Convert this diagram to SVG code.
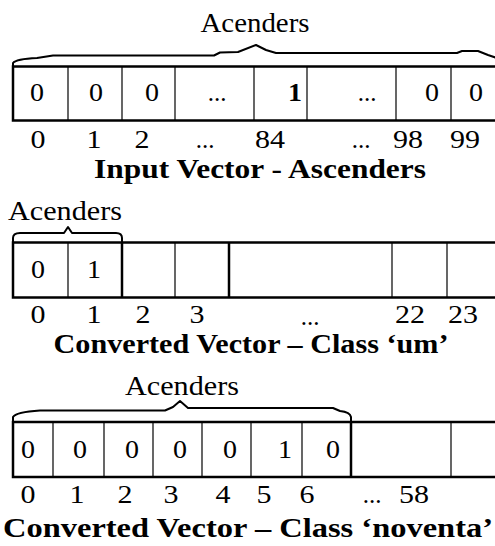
<svg xmlns="http://www.w3.org/2000/svg" width="495" height="546" viewBox="0 0 495 546" font-family="'Liberation Serif', 'DejaVu Serif', serif">
<style>
.v{font-size:25px;text-anchor:middle}
.i{font-size:25px;text-anchor:middle}
.lab{font-size:28px;text-anchor:middle}
.t{font-size:28px;font-weight:bold;text-anchor:middle}
.box{fill:#fff;stroke:#000;stroke-width:2.5}
.thin{stroke:#000;stroke-width:1.2}
.thick{stroke:#000;stroke-width:2.5}
.brace{fill:none;stroke:#000;stroke-width:2;stroke-linejoin:round}
</style>
<rect width="495" height="546" fill="#fff"/>

<g id="panel1">
  <text class="lab" x="255" y="32" textLength="109" lengthAdjust="spacingAndGlyphs">Acenders</text>
  <path class="brace" d="M13,66 L13,63 Q16,59 37,58 L53,55.5 L214,55.5 L220,52.5 L238,52 L256,45 L266,50 L276,53 L457,53 L462,51 L478,51 L488,55 L497,58"/>
  <rect class="box" x="13" y="66.5" width="490" height="54"/>
  <g class="cells">
    <line class="thin" x1="68" y1="66.5" x2="68" y2="120.5"/>
    <line class="thin" x1="122" y1="66.5" x2="122" y2="120.5"/>
    <line class="thin" x1="175" y1="66.5" x2="175" y2="120.5"/>
    <line class="thin" x1="254" y1="66.5" x2="254" y2="120.5"/>
    <line class="thin" x1="307" y1="66.5" x2="307" y2="120.5"/>
    <line class="thin" x1="396" y1="66.5" x2="396" y2="120.5"/>
    <line class="thin" x1="451" y1="66.5" x2="451" y2="120.5"/>
  </g>
  <text class="v" x="37" y="101" textLength="14" lengthAdjust="spacingAndGlyphs">0</text>
  <text class="v" x="96" y="101" textLength="14" lengthAdjust="spacingAndGlyphs">0</text>
  <text class="v" x="152" y="101" textLength="14" lengthAdjust="spacingAndGlyphs">0</text>
  <text class="v" x="217" y="101">...</text>
  <text class="v" x="295" y="101" font-weight="bold" textLength="14" lengthAdjust="spacingAndGlyphs">1</text>
  <text class="v" x="367" y="101">...</text>
  <text class="v" x="432" y="101" textLength="14" lengthAdjust="spacingAndGlyphs">0</text>
  <text class="v" x="476" y="101" textLength="14" lengthAdjust="spacingAndGlyphs">0</text>
  <text class="i" x="38" y="148" textLength="15" lengthAdjust="spacingAndGlyphs">0</text>
  <text class="i" x="94" y="148" textLength="15" lengthAdjust="spacingAndGlyphs">1</text>
  <text class="i" x="142" y="148" textLength="15" lengthAdjust="spacingAndGlyphs">2</text>
  <text class="i" x="205" y="148">...</text>
  <text class="i" x="270" y="148" textLength="30" lengthAdjust="spacingAndGlyphs">84</text>
  <text class="i" x="361" y="148">...</text>
  <text class="i" x="408" y="148" textLength="30" lengthAdjust="spacingAndGlyphs">98</text>
  <text class="i" x="465" y="148" textLength="30" lengthAdjust="spacingAndGlyphs">99</text>
  <text class="t" x="260" y="178" textLength="332" lengthAdjust="spacingAndGlyphs">Input Vector - Ascenders</text>
</g>

<g id="panel2">
  <text class="lab" x="65" y="220" textLength="114" lengthAdjust="spacingAndGlyphs">Acenders</text>
  <path class="brace" d="M13,242 L13,238 Q13,233 20,233 L64,233 L68,227 L72,233 L116,233 Q122,233 122,238 L122,242"/>
  <rect class="box" x="13" y="242.5" width="490" height="55"/>
  <line class="thin" x1="68" y1="242.5" x2="68" y2="297.5"/>
  <line class="thick" x1="122" y1="242.5" x2="122" y2="297.5"/>
  <line class="thin" x1="175" y1="242.5" x2="175" y2="297.5"/>
  <line class="thick" x1="229" y1="242.5" x2="229" y2="297.5"/>
  <line class="thin" x1="392" y1="242.5" x2="392" y2="297.5"/>
  <line class="thin" x1="447" y1="242.5" x2="447" y2="297.5"/>
  <text class="v" x="38" y="278" textLength="14" lengthAdjust="spacingAndGlyphs">0</text>
  <text class="v" x="94" y="278" textLength="14" lengthAdjust="spacingAndGlyphs">1</text>
  <text class="i" x="38" y="323" textLength="15" lengthAdjust="spacingAndGlyphs">0</text>
  <text class="i" x="94" y="323" textLength="15" lengthAdjust="spacingAndGlyphs">1</text>
  <text class="i" x="143" y="323" textLength="15" lengthAdjust="spacingAndGlyphs">2</text>
  <text class="i" x="197" y="323" textLength="15" lengthAdjust="spacingAndGlyphs">3</text>
  <text class="i" x="310" y="325">...</text>
  <text class="i" x="410" y="323" textLength="30" lengthAdjust="spacingAndGlyphs">22</text>
  <text class="i" x="463" y="323" textLength="30" lengthAdjust="spacingAndGlyphs">23</text>
  <text class="t" x="251" y="353" textLength="395" lengthAdjust="spacingAndGlyphs">Converted Vector – Class ‘um’</text>
</g>

<g id="panel3">
  <text class="lab" x="182" y="395" textLength="114" lengthAdjust="spacingAndGlyphs">Acenders</text>
  <path class="brace" d="M13,421 L13,417 Q16,412 40,410.5 L165,410.5 L173,407 L180,401 L188,408 L333,408 L340,411 Q350,412 351,417 L351,421"/>
  <rect class="box" x="13" y="422" width="490" height="55"/>
  <line class="thin" x1="53" y1="422" x2="53" y2="477"/>
  <line class="thin" x1="104" y1="422" x2="104" y2="477"/>
  <line class="thin" x1="153" y1="422" x2="153" y2="477"/>
  <line class="thin" x1="202" y1="422" x2="202" y2="477"/>
  <line class="thin" x1="251" y1="422" x2="251" y2="477"/>
  <line class="thin" x1="302" y1="422" x2="302" y2="477"/>
  <line class="thick" x1="351" y1="422" x2="351" y2="477"/>
  <line class="thin" x1="451" y1="422" x2="451" y2="477"/>
  <text class="v" x="28" y="458" textLength="14" lengthAdjust="spacingAndGlyphs">0</text>
  <text class="v" x="80" y="458" textLength="14" lengthAdjust="spacingAndGlyphs">0</text>
  <text class="v" x="132" y="458" textLength="14" lengthAdjust="spacingAndGlyphs">0</text>
  <text class="v" x="180" y="458" textLength="14" lengthAdjust="spacingAndGlyphs">0</text>
  <text class="v" x="230" y="458" textLength="14" lengthAdjust="spacingAndGlyphs">0</text>
  <text class="v" x="285" y="458" textLength="14" lengthAdjust="spacingAndGlyphs">1</text>
  <text class="v" x="333" y="458" textLength="14" lengthAdjust="spacingAndGlyphs">0</text>
  <text class="i" x="28" y="503" textLength="15" lengthAdjust="spacingAndGlyphs">0</text>
  <text class="i" x="77" y="503" textLength="15" lengthAdjust="spacingAndGlyphs">1</text>
  <text class="i" x="125" y="503" textLength="15" lengthAdjust="spacingAndGlyphs">2</text>
  <text class="i" x="171" y="503" textLength="15" lengthAdjust="spacingAndGlyphs">3</text>
  <text class="i" x="223" y="503" textLength="15" lengthAdjust="spacingAndGlyphs">4</text>
  <text class="i" x="264" y="503" textLength="15" lengthAdjust="spacingAndGlyphs">5</text>
  <text class="i" x="307" y="503" textLength="15" lengthAdjust="spacingAndGlyphs">6</text>
  <text class="i" x="372" y="503">...</text>
  <text class="i" x="414" y="503" textLength="30" lengthAdjust="spacingAndGlyphs">58</text>
  <text class="t" x="248" y="537" textLength="490" lengthAdjust="spacingAndGlyphs">Converted Vector – Class ‘noventa’</text>
</g>
</svg>
